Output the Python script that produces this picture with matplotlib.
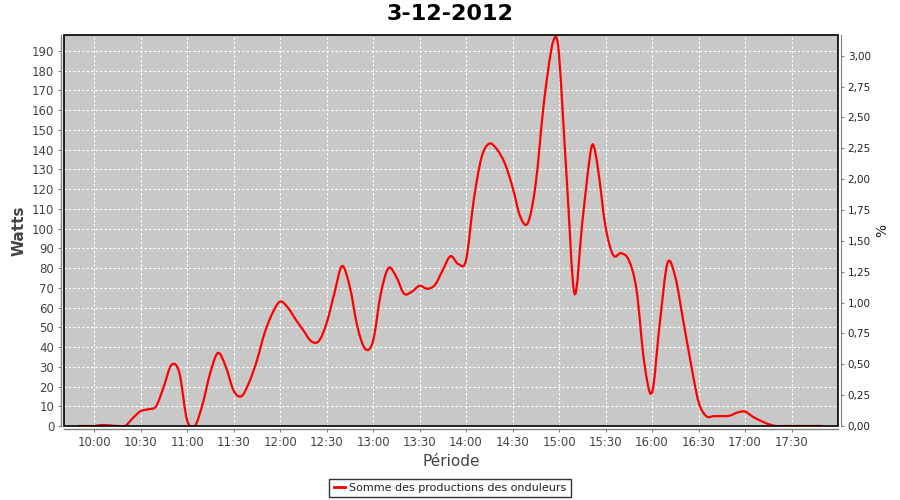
import matplotlib
matplotlib.use("Agg")
import matplotlib.pyplot as plt
import matplotlib.dates as mdates
from matplotlib.ticker import MultipleLocator, FuncFormatter
from matplotlib.patches import Rectangle, PathPatch
from matplotlib.path import Path
from matplotlib.lines import Line2D
import numpy as np
import datetime as dt

# ---- data ----
times = ["09:50", "09:55", "10:00", "10:05", "10:10", "10:15", "10:20", "10:25",
         "10:30", "10:35", "10:40", "10:45", "10:50", "10:55", "11:00", "11:05",
         "11:10", "11:15", "11:20", "11:25", "11:30", "11:35", "11:40", "11:45",
         "11:50", "11:55", "12:00", "12:05", "12:10", "12:15", "12:20", "12:25",
         "12:30", "12:35", "12:40", "12:45", "12:50", "12:55", "13:00", "13:05",
         "13:10", "13:15", "13:20", "13:25", "13:30", "13:35", "13:40", "13:45",
         "13:50", "13:55", "14:00", "14:05", "14:10", "14:15", "14:20", "14:25",
         "14:30", "14:35", "14:40", "14:45", "14:50", "14:55", "14:58", "15:00",
         "15:05", "15:10", "15:15", "15:20", "15:22", "15:25", "15:30", "15:35",
         "15:40", "15:45", "15:50", "15:55", "16:00", "16:05", "16:10", "16:15",
         "16:20", "16:25", "16:30", "16:35", "16:40", "16:45", "16:50", "16:55",
         "17:00", "17:05", "17:10", "17:15", "17:20", "17:25", "17:30", "17:35",
         "17:40", "17:45", "17:50"]
watts = [0, 0, 0, 0.5, 0.3, 0, 0, 4,
         7.5, 8.5, 10, 20, 31, 27, 3, 0,
         11, 27, 37, 30, 18, 15, 22, 33,
         47, 57, 63, 60, 54, 48.5, 43, 43,
         52, 67, 81, 70.5, 50, 39, 43, 67,
         80, 75.5, 67, 68, 71, 69.5, 71.5, 79,
         86, 82, 84, 114.5, 136, 143, 140, 133,
         121, 106, 103, 123, 162, 190.5, 197, 188,
         125, 67, 103, 137, 142.5, 131, 101, 86.5,
         87.5, 84, 69, 32, 17, 52, 82.5, 75.5,
         54, 32, 12.3, 5, 5, 5, 5.2, 6.8,
         7.3, 4.7, 2.7, 1, 0, 0, 0, 0,
         0, 0, 0]
series_label = "Somme des productions des onduleurs"
title = "3-12-2012"
pct_ticks = [0.0, 0.25, 0.5, 0.75, 1.0, 1.25, 1.5, 1.75, 2.0, 2.25, 2.5, 2.75, 3.0]
tick_times = ["10:00", "10:30", "11:00", "11:30", "12:00", "12:30", "13:00", "13:30",
              "14:00", "14:30", "15:00", "15:30", "16:00", "16:30", "17:00", "17:30"]

day = dt.date(2012, 12, 3)


def to_dt(t):
    return dt.datetime.combine(day, dt.datetime.strptime(t, "%H:%M").time())


xs = mdates.date2num([to_dt(t) for t in times])
ys = np.array(watts, dtype=float)

plt.rcParams["font.family"] = ["DejaVu Sans"]

fig = plt.figure(figsize=(9, 5), dpi=100)
fig.patch.set_facecolor("white")
ax = fig.add_axes([64 / 900, 1 - 426 / 500, (838 - 64) / 900, (426 - 35) / 500])
ax.set_facecolor("#c8c8c8")

# smooth spline rendering through the data points (Catmull-Rom as cubic Bezier path)
verts = [(xs[0], ys[0])]
codes = [Path.MOVETO]
n = len(xs)
for i in range(n - 1):
    x0, y0 = (xs[i - 1], ys[i - 1]) if i > 0 else (xs[i], ys[i])
    x1, y1 = xs[i], ys[i]
    x2, y2 = xs[i + 1], ys[i + 1]
    x3, y3 = (xs[i + 2], ys[i + 2]) if i + 2 < n else (xs[i + 1], ys[i + 1])
    # centripetal-free uniform variant scaled by local spacing
    d1 = x2 - x1
    m1 = ((y2 - y0) / (x2 - x0)) if x2 != x0 else 0.0
    m2 = ((y3 - y1) / (x3 - x1)) if x3 != x1 else 0.0
    c1 = (x1 + d1 / 3, y1 + m1 * d1 / 3)
    c2 = (x2 - d1 / 3, y2 - m2 * d1 / 3)
    verts += [c1, c2, (x2, y2)]
    codes += [Path.CURVE4, Path.CURVE4, Path.CURVE4]
ax.add_patch(PathPatch(Path(verts, codes), facecolor="none", edgecolor="#ff0000",
                       lw=1.6, zorder=3, transform=ax.transData))

ymax = 198
ax.set_ylim(0, ymax)
ax.set_xlim(dt.datetime(2012, 12, 3, 9, 40, 36), dt.datetime(2012, 12, 3, 18, 0, 0))
ax.yaxis.set_major_locator(MultipleLocator(10))
ax.set_xticks([to_dt(t) for t in tick_times])
ax.set_xticklabels(tick_times)

ax.grid(True, color="white", linestyle=(0, (2, 2)), linewidth=0.8)
ax.set_axisbelow(True)

for s in ["top", "right"]:
    ax.spines[s].set_visible(False)
for s in ["left", "bottom"]:
    ax.spines[s].set_position(("outward", 2.5))
    ax.spines[s].set_color("#808080")
    ax.spines[s].set_linewidth(1)
ax.tick_params(axis="both", direction="out", length=2.5, width=0.8, color="#808080",
               labelcolor="#444444", labelsize=8.5, pad=2)
ax.add_patch(Rectangle((0, 0), 1, 1, transform=ax.transAxes, fill=False,
                       edgecolor="black", lw=1.2, clip_on=False, zorder=5))

ax2 = ax.twinx()
ax2.set_ylim(0, ymax / 62.5)
ax2.set_yticks(pct_ticks)
ax2.yaxis.set_major_formatter(FuncFormatter(lambda v, p: f"{v:.2f}".replace(".", ",")))
for s in ["top", "left", "bottom"]:
    ax2.spines[s].set_visible(False)
ax2.spines["right"].set_position(("outward", 2.5))
ax2.spines["right"].set_color("#808080")
ax2.tick_params(axis="y", direction="out", length=2.5, width=0.8, color="#808080",
                labelcolor="#222222", labelsize=7.5, pad=2)

ax.set_ylabel("Watts", fontsize=11, fontweight="bold", color="#444444", labelpad=4)
ax.set_xlabel("Période", fontsize=11, color="#444444", labelpad=4)
ax2.set_ylabel("%", fontsize=10, color="#222222", labelpad=3)

fig.text(0.5, 0.972, title, ha="center", va="center", fontsize=16, fontweight="bold")

handle = Line2D([], [], color="#ff0000", lw=2)
leg = fig.legend([handle], [series_label], loc="center", bbox_to_anchor=(0.5, 0.024),
                 fontsize=8, frameon=True, fancybox=False, handlelength=1.0,
                 handletextpad=0.4, borderpad=0.4, borderaxespad=0)
leg.get_frame().set_edgecolor("black")
leg.get_frame().set_linewidth(1)
for t in leg.get_texts():
    t.set_color("#222222")

fig.savefig("out.png", dpi=100)
